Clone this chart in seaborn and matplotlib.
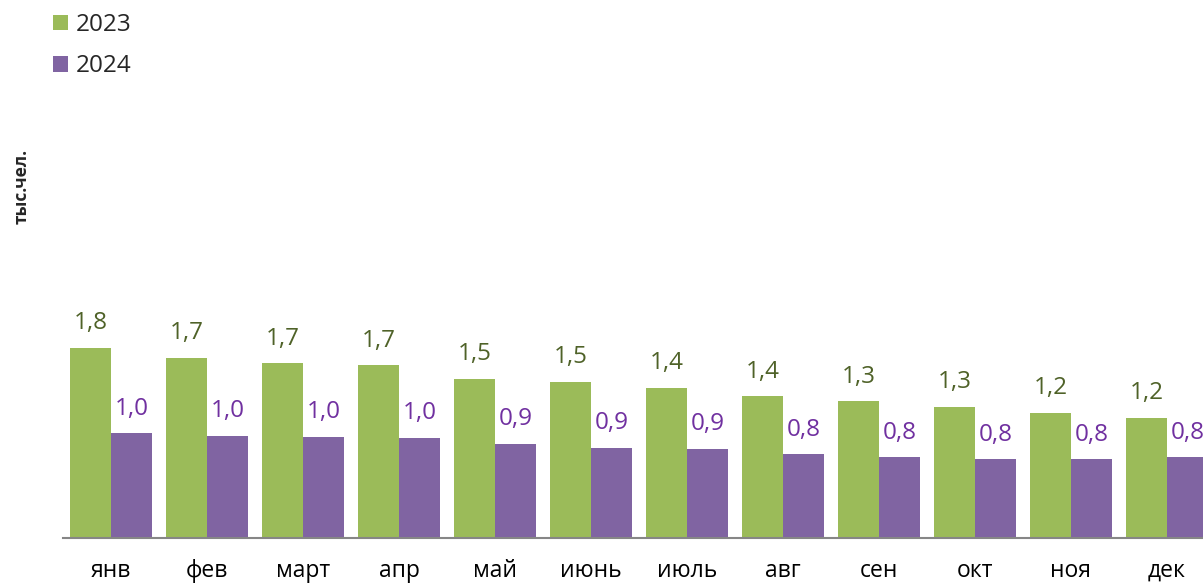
import pandas as pd
import matplotlib.pyplot as plt
import seaborn as sns

# данные (тыс.чел.)
months = ["янв", "фев", "март", "апр", "май", "июнь", "июль", "авг", "сен", "окт", "ноя", "дек"]
years = ["2023", "2024"]
vals_2023 = [1.84, 1.74, 1.69, 1.67, 1.54, 1.51, 1.45, 1.37, 1.32, 1.27, 1.21, 1.16]
vals_2024 = [1.01, 0.99, 0.98, 0.97, 0.91, 0.87, 0.86, 0.81, 0.78, 0.76, 0.76, 0.78]

bar_colors = ["#9BBB59", "#8064A2"]
label_colors = ["#4F6228", "#7030A0"]

df = pd.DataFrame({
    "month": months * 2,
    "year": [years[0]] * len(months) + [years[1]] * len(months),
    "value": vals_2023 + vals_2024,
})

sns.set_style("white")
plt.rcParams['font.family'] = ['Open Sans', 'DejaVu Sans']

fig = plt.figure(figsize=(12.03, 5.85), dpi=100)
ax = fig.add_axes([63 / 1203, 47 / 585, 1140 / 1203, 448 / 585])

sns.barplot(data=df, x="month", y="value", hue="year", hue_order=years,
            order=months, palette=bar_colors, width=0.854, gap=0,
            linewidth=0, saturation=1, ax=ax)

# подписи значений
for cont, col in zip(ax.containers, label_colors):
    labels = [f"{b.get_height():.1f}".replace(".", ",") for b in cont]
    ax.bar_label(cont, labels=labels, padding=9, color=col, fontsize=17.5)

ax.set_xlim(-0.5, -0.5 + 1140 / 96)
ax.set_ylim(0, 448 / 103.5)
ax.set_xlabel("")
ax.set_ylabel("")
ax.set_yticks([])
ax.tick_params(axis="x", length=0, pad=15, labelsize=16.5, colors="black")
for s in ["top", "right", "left"]:
    ax.spines[s].set_visible(False)
ax.spines["bottom"].set_color("#868686")
ax.spines["bottom"].set_linewidth(1.5)

# легенда
handles, labels = ax.get_legend_handles_labels()
ax.get_legend().remove()
fig.legend(handles, labels, loc="upper left",
           bbox_to_anchor=(53 / 1203, 1 - 13 / 585), frameon=False,
           fontsize=17.5, borderpad=0, borderaxespad=0,
           handlelength=0.62, handleheight=0.62, handletextpad=0.3,
           labelspacing=0.72)

fig.text(22 / 1203, 1 - 186 / 585, "тыс.чел.", rotation=90, fontsize=12.5,
         fontweight="bold", ha="center", va="center")

fig.savefig("out.png", dpi=100)
